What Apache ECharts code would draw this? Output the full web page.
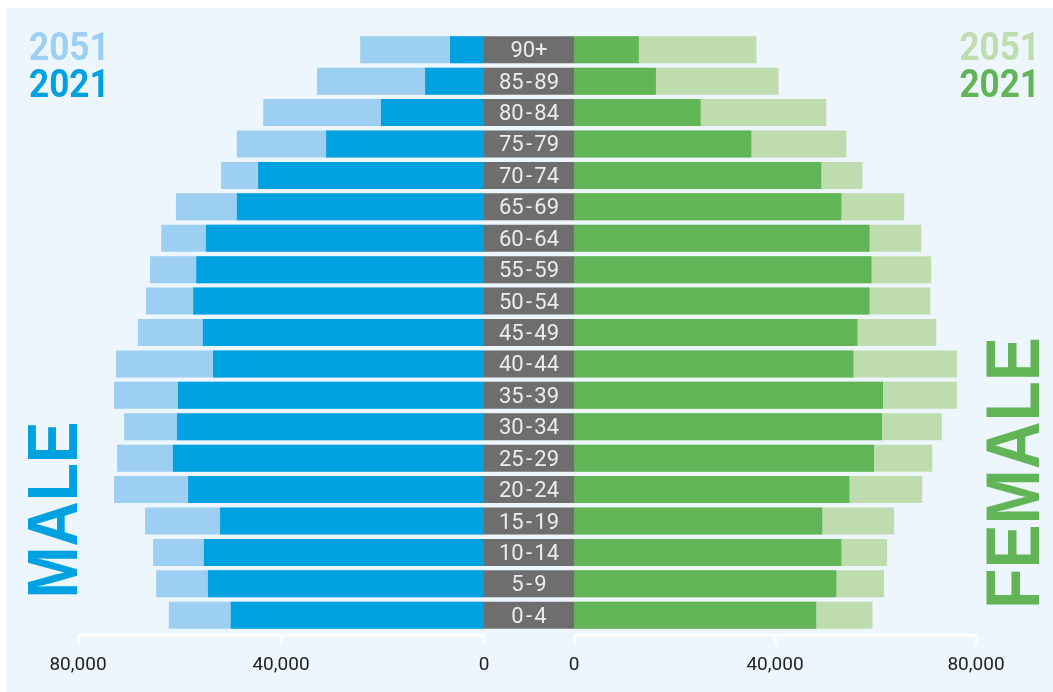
<!DOCTYPE html>
<html>
<head>
<meta charset="utf-8">
<script src="https://cdn.jsdelivr.net/npm/echarts@6/dist/echarts.min.js"></script>
<style>
  html, body { margin: 0; padding: 0; background: #fff; }
  #bg { position: absolute; left: 6px; top: 8px; right: 0; bottom: 0; background: #edf5fd; }
  #chart { position: absolute; left: 0; top: 0; width: 1053px; height: 692px; }
</style>
</head>
<body>
<div id="bg"></div>
<div id="chart"></div>
<script>
// Population pyramid, 2021 vs 2051 projection. Rows listed bottom → top.
const AGES = ["0-4", "5-9", "10-14", "15-19", "20-24", "25-29", "30-34", "35-39", "40-44", "45-49",
  "50-54", "55-59", "60-64", "65-69", "70-74", "75-79", "80-84", "85-89", "90+"];
const MALE_2051 = [62100, 64600, 65200, 66800, 72900, 72300, 70900, 72900, 72500, 68200,
  66600, 65800, 63600, 60700, 51800, 48700, 43500, 32900, 24400];
const MALE_2021 = [49900, 54400, 55200, 52000, 58300, 61300, 60500, 60300, 53400, 55400,
  57300, 56700, 54800, 48700, 44500, 31100, 20300, 11600, 6700];
const FEMALE_2051 = [59400, 61700, 62300, 63700, 69300, 71300, 73200, 76200, 76200, 72100,
  70900, 71100, 69100, 65700, 57400, 54200, 50200, 40700, 36300];
const FEMALE_2021 = [48200, 52200, 53200, 49400, 54800, 59700, 61300, 61500, 55600, 56400,
  58800, 59200, 58800, 53200, 49200, 35300, 25200, 16300, 12900];
const BAND = AGES.map(() => 1); // grey label band behind the age names
const TICKS = [0, 40000, 80000];

const C = { m51: "#9dcff2", m21: "#00a1e0", f51: "#bedcad", f21: "#61b556", band: "#6e6e6e" };
const fmt = (v) => String(v).replace(/\B(?=(\d{3})+(?!\d))/g, ",");

const GRID_Y = { top: 34, bottom: 61 };
const valueAxis = (grid, inverse) => ({
  type: "value", gridIndex: grid, min: TICKS[0], max: TICKS[TICKS.length - 1], interval: TICKS[1] - TICKS[0],
  inverse, position: "bottom", offset: 4, splitLine: { show: false },
  axisLine: { show: true, lineStyle: { color: "#fff", width: 2.5 } },
  axisTick: { show: true, length: 10, lineStyle: { color: "#fff", width: 2.5 } },
  axisLabel: { formatter: fmt, color: "#222", fontSize: 19, fontFamily: "Roboto", margin: 21 },
});
const catAxis = (grid) => ({ type: "category", gridIndex: grid, data: AGES, show: false });
const bar = (name, data, x, color) => ({
  name, type: "bar", xAxisIndex: x, yAxisIndex: x, data, barWidth: 27, barGap: "-100%",
  itemStyle: { color }, silent: true, animation: false,
});
const bigText = (text, x, y, size, scale, color, rotation) => ({
  type: "text", x, y, rotation, scaleX: scale, silent: true,
  style: { text, fill: color, font: `bold ${size}px "Liberation Sans", Arial, sans-serif`, textAlign: "center", textVerticalAlign: "middle" },
});
const yearText = (text, x, y, color, align) => ({
  type: "text", x, y, scaleX: 0.9, silent: true,
  style: { text, fill: color, font: 'bold 39px Roboto, sans-serif', textAlign: align, textVerticalAlign: "middle" },
});

const chart = echarts.init(document.getElementById("chart"));
chart.setOption({
  animation: false,
  grid: [
    { left: 78, right: 569, ...GRID_Y },
    { left: 484, right: 479, ...GRID_Y },
    { left: 574, right: 77, ...GRID_Y },
  ],
  xAxis: [valueAxis(0, true), { type: "value", gridIndex: 1, min: 0, max: 1, show: false }, valueAxis(2, false)],
  yAxis: [catAxis(0), catAxis(1), catAxis(2)],
  series: [
    bar("Male 2051", MALE_2051, 0, C.m51),
    bar("Male 2021", MALE_2021, 0, C.m21),
    { ...bar("Age", BAND, 1, C.band),
      label: { show: true, position: "inside", offset: [0, 2], formatter: (p) => p.name.replace("-", "\u200a-\u200a"),
        color: "#ececec", fontSize: 22, fontFamily: "Roboto" } },
    bar("Female 2051", FEMALE_2051, 2, C.f51),
    bar("Female 2021", FEMALE_2021, 2, C.f21),
  ],
  graphic: [
    yearText("2051", 29, 50, C.m51, "left"),
    yearText("2021", 29, 87, C.m21, "left"),
    yearText("2051", 1040, 50, C.f51, "right"),
    yearText("2021", 1040, 87, C.f21, "right"),
    bigText("MALE", 57, 510, 71, 0.88, C.m21, Math.PI / 2),
    bigText("FEMALE", 1018, 473, 76, 0.87, C.f21, Math.PI / 2),
  ],
});
</script>
</body>
</html>
